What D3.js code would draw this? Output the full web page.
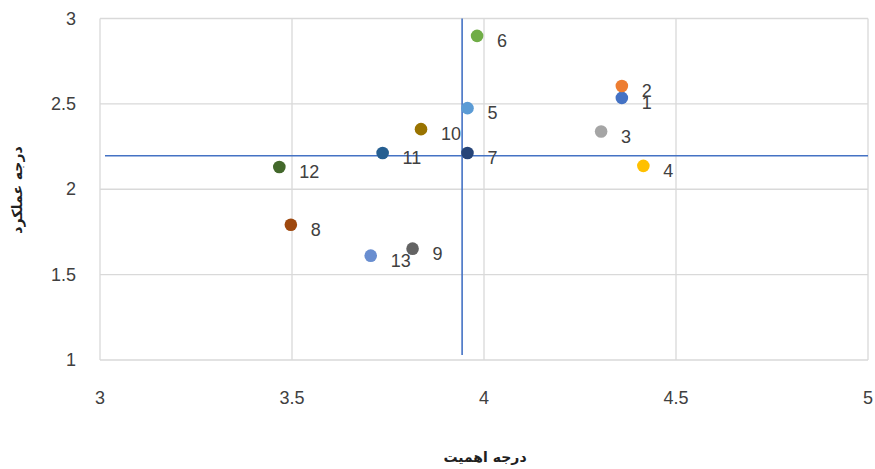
<!DOCTYPE html>
<html><head><meta charset="utf-8">
<script src="https://cdn.jsdelivr.net/npm/d3@7"></script>
<style>body{margin:0;background:#fff}</style>
</head><body>
<script>
const labels = ["1","2","3","4","5","6","7","8","9","10","11","12","13"];
const importance = [4.359,4.359,4.305,4.415,3.957,3.982,3.957,3.497,3.814,3.836,3.736,3.467,3.705];
const performance = [2.535,2.605,2.338,2.137,2.475,2.898,2.212,1.792,1.652,2.352,2.212,2.130,1.611];
const colors = ["#4472C4","#ED7D31","#A5A5A5","#FFC000","#5B9BD5","#70AD47","#264478","#9E480E","#636363","#997300","#255E91","#43682B","#698ED0"];
const xTicks = [3,3.5,4,4.5,5];
const yTicks = [1,1.5,2,2.5,3];
const meanX = 3.943, meanY = 2.196;
const xTitle = "درجه اهمیت", yTitle = "درجه عملکرد";

const W=875,H=469;
const svg=d3.select("body").append("svg").attr("width",W).attr("height",H);
const x=d3.scaleLinear().domain([3,5]).range([100,868]);
const y=d3.scaleLinear().domain([1,3]).range([360,18.5]);
const font="'Liberation Sans', Arial, sans-serif";

svg.append("g").selectAll("line").data(xTicks).join("line")
  .attr("x1",d=>x(d)).attr("x2",d=>x(d)).attr("y1",y(1)).attr("y2",y(3))
  .attr("stroke","#d9d9d9").attr("stroke-width",1.3);
svg.append("g").selectAll("line").data(yTicks).join("line")
  .attr("x1",x(3)).attr("x2",x(5)).attr("y1",d=>y(d)).attr("y2",d=>y(d))
  .attr("stroke","#d9d9d9").attr("stroke-width",1.3);

svg.append("g").selectAll("text").data(xTicks).join("text")
  .attr("x",d=>x(d)).attr("y",404).attr("text-anchor","middle")
  .attr("font-family",font).attr("font-size",18).attr("fill","#404040").text(d=>d);
svg.append("g").selectAll("text").data(yTicks).join("text")
  .attr("x",76).attr("y",d=>y(d)+6).attr("text-anchor","end")
  .attr("font-family",font).attr("font-size",18).attr("fill","#404040").text(d=>d);

// reference lines
svg.append("line").attr("x1",x(3.013)).attr("x2",x(5)).attr("y1",y(meanY)).attr("y2",y(meanY))
  .attr("stroke","#4472C4").attr("stroke-width",1.6);
svg.append("line").attr("x1",x(meanX)).attr("x2",x(meanX)).attr("y1",y(1.03)).attr("y2",y(3))
  .attr("stroke","#4472C4").attr("stroke-width",1.6);

const g=svg.append("g");
labels.forEach((l,i)=>{
  g.append("circle").attr("cx",x(importance[i])).attr("cy",y(performance[i])).attr("r",6.3).attr("fill",colors[i]);
});
labels.forEach((l,i)=>{
  g.append("text").attr("x",x(importance[i])+20).attr("y",y(performance[i])+11)
   .attr("font-family",font).attr("font-size",18).attr("fill","#404040").text(l);
});

svg.append("text").attr("x",485).attr("y",462).attr("text-anchor","middle")
  .attr("font-family","'DejaVu Sans', sans-serif").attr("font-size",14).attr("font-weight","bold")
  .attr("fill","#202020").attr("direction","rtl").text(xTitle);
svg.append("text").attr("transform","translate(22,190) rotate(-90)").attr("text-anchor","middle")
  .attr("font-family","'DejaVu Sans', sans-serif").attr("font-size",14).attr("font-weight","bold")
  .attr("fill","#202020").attr("direction","rtl").text(yTitle);
</script>
</body></html>
